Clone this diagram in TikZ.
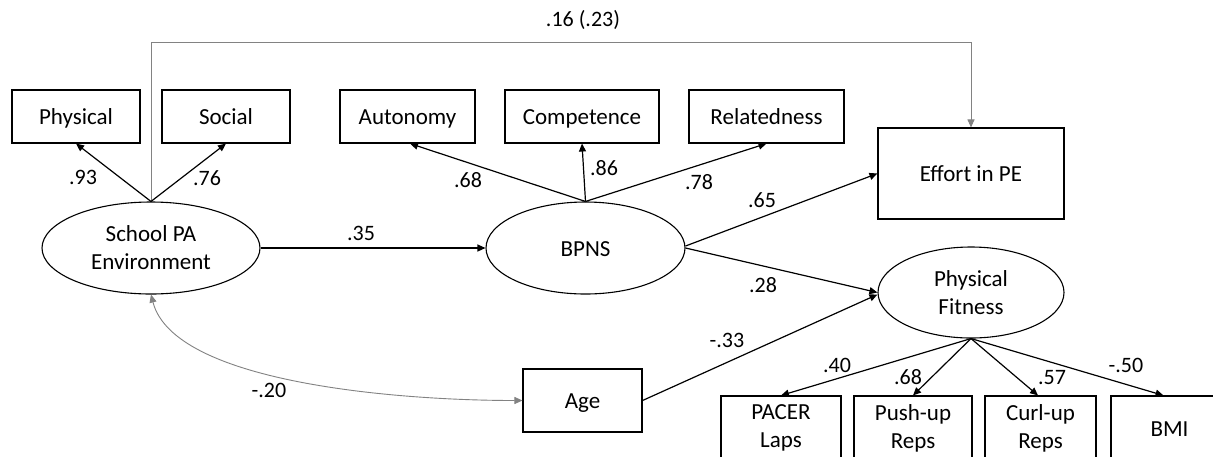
\documentclass[tikz,border=0pt]{standalone}
\usepackage{fontspec}
\setmainfont{Carlito}
\usetikzlibrary{arrows.meta,calc,shapes.geometric}
\begin{document}
\begin{tikzpicture}[x=1pt,y=-1pt,
  box/.style={draw, line width=1.1pt, inner sep=0pt, align=center, font=\fontsize{23}{28}\selectfont},
  one/.style={text height=17pt, text depth=1pt},
  lat/.style={draw, ellipse, line width=1.1pt, inner sep=0pt, align=center, font=\fontsize{23}{28}\selectfont},
  pth/.style={line width=1.2pt, -{Triangle[length=8pt,width=7pt]}},
  coef/.style={font=\fontsize{22}{26}\selectfont, inner sep=0pt},
  grayln/.style={draw={rgb,255:red,130;green,130;blue,130}, line width=0.9pt}]
\clip (0,0) rectangle (1213,456);
\fill[white] (0,0) rectangle (1213,456);
% indicators
\node[box, one, minimum width=128pt, minimum height=53pt] (phys) at (76,116.5) {Physical};
\node[box, one, minimum width=128pt, minimum height=53pt] (soc) at (226,116.5) {Social};
\node[box, one, minimum width=135pt, minimum height=53pt] (aut) at (407.5,116.5) {Autonomy};
\node[box, one, minimum width=154pt, minimum height=53pt] (comp) at (582,116.5) {Competence};
\node[box, one, minimum width=155pt, minimum height=53pt] (rel) at (766.5,116.5) {Relatedness};
\node[box, one, minimum width=186pt, minimum height=91pt] (eff) at (971,173.5) {Effort in PE};
% latents
\node[lat, minimum width=218pt, minimum height=92pt] (spa) at (151,248) {School PA\\Environment};
\node[lat, one, minimum width=199pt, minimum height=92pt] (bpns) at (585.5,248) {BPNS};
\node[lat, minimum width=186pt, minimum height=91pt] (pf) at (971,292.5) {Physical\\Fitness};
% age and fitness indicators
\node[box, one, minimum width=119pt, minimum height=63pt] (age) at (582.5,400.5) {Age};
\node[box, minimum width=120pt, minimum height=64pt] (pacer) at (781,428) {PACER\\Laps};
\node[box, minimum width=118pt, minimum height=64pt] (push) at (913,428) {Push-up\\Reps};
\node[box, minimum width=111pt, minimum height=64pt] (curl) at (1040.5,428) {Curl-up\\Reps};
\node[box, one, minimum width=117pt, minimum height=64pt] (bmi) at (1169.5,428) {BMI};
% top path
\coordinate (topl) at (151,42);
\draw[grayln, -{Triangle[length=8pt,width=7pt]}] (spa.north) -- (topl) -| (eff.north);
\node[coef] (c16) at (583,20) {.16 (.23)};
% loadings
\draw[pth] (spa.north) -- (phys.south);
\draw[pth] (spa.north) -- (soc.south);
\draw[pth] (bpns.north) -- ($(aut.south)+(2.5,0)$);
\draw[pth] (bpns.north) -- (comp.south);
\draw[pth] (bpns.north) -- (rel.south);
\draw[pth] (pf.south) -- (pacer.north);
\draw[pth] (pf.south) -- (push.north);
\draw[pth] (pf.south) -- ($(curl.north)+(-2.5,0)$);
\draw[pth] (pf.south) -- ($(bmi.north)+(-6,0)$);
% structural paths
\draw[pth] (spa.east) -- (bpns.west);
\draw[pth] ($(bpns.east)+(0,-2)$) -- (eff.west);
\draw[pth] (bpns.east) -- (pf.west);
\draw[pth] (age.east) -- ($(pf.west)+(0,2)$);
% covariance
\draw[grayln, {Triangle[length=8pt,width=7pt]}-{Triangle[length=8pt,width=7pt]}]
  (spa.south) .. controls +(23,89) and +(-122,0) .. (age.west);
% coefficients
\node[coef] (l93) at (83,177) {.93};
\node[coef] (l76) at (207,178) {.76};
\node[coef] (l68a) at (468,180) {.68};
\node[coef] (l86) at (604,168) {.86};
\node[coef] (l78) at (699,182) {.78};
\node[coef] (l65) at (762,200) {.65};
\node[coef] (l35) at (361,233) {.35};
\node[coef] (l28) at (763,285) {.28};
\node[coef] (l33) at (727,340) {-.33};
\node[coef] (l20) at (269,390) {-.20};
\node[coef] (l40) at (837,365) {.40};
\node[coef] (l68b) at (908,377) {.68};
\node[coef] (l57) at (1052,378) {.57};
\node[coef] (l50) at (1126,365) {-.50};
\end{tikzpicture}
\end{document}
